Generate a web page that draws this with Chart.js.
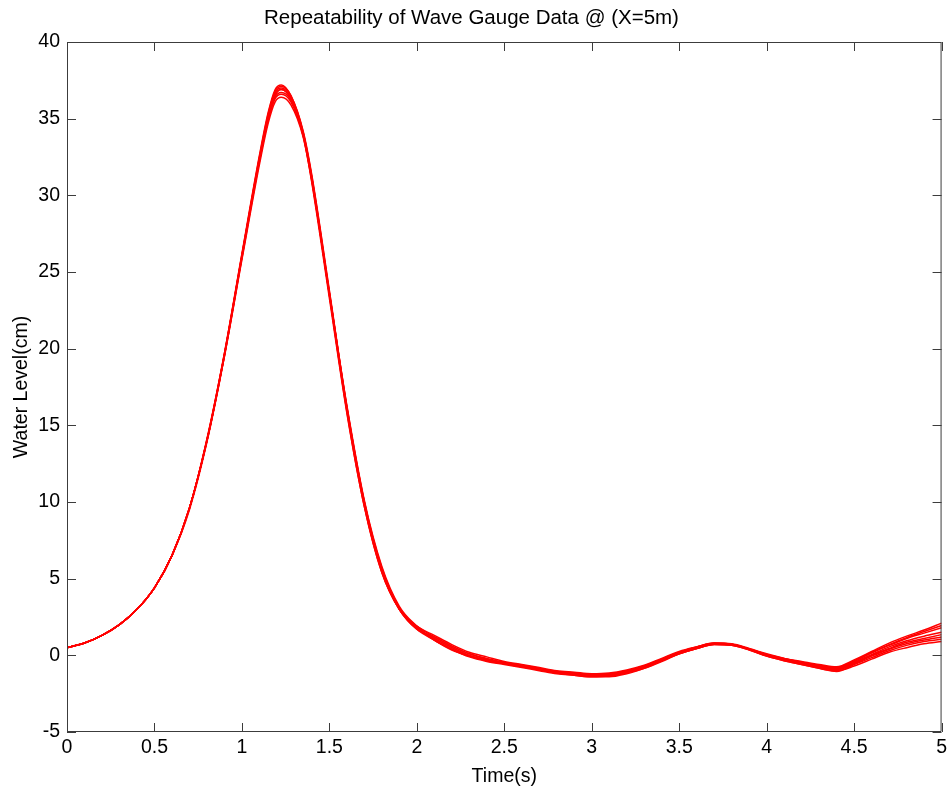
<!DOCTYPE html>
<html>
<head>
<meta charset="utf-8">
<script src="https://cdn.jsdelivr.net/npm/chart.js@4"></script>
<style>
  html, body { margin: 0; padding: 0; background: #fff; }
  #wrap { width: 951px; height: 788px; }
</style>
</head>
<body>
<div id="wrap"><canvas id="chart" width="951" height="788"></canvas></div>
<script>
const TITLE = "Repeatability of Wave Gauge Data @ (X=5m)";
const X_LABEL = "Time(s)";
const Y_LABEL = "Water Level(cm)";

// time samples (s), shared by every run
const TIME = [0, 0.1, 0.2, 0.3, 0.4, 0.5, 0.6, 0.7, 0.8, 0.9, 1.0, 1.1,
  1.15, 1.19, 1.225, 1.28, 1.35,
  1.4, 1.5, 1.6, 1.7, 1.8, 1.9, 2.0, 2.1, 2.2, 2.3,
  2.4, 2.5, 2.6, 2.7, 2.8, 2.9, 3.0, 3.1, 3.2, 3.3,
  3.4, 3.5, 3.6, 3.7, 3.8, 3.9, 4.0, 4.1, 4.2, 4.3,
  4.4, 4.5, 4.6, 4.7, 4.8, 4.9, 5.0];

// water level (cm) for each repeated run
const RUN_1 = [0.5, 0.8, 1.3, 2.0, 3.0, 4.4, 6.5, 9.6, 14.0, 19.6, 26.0, 32.3,
  35.0, 36.5, 36.9, 36.3, 34.0,
  31.0, 23.5, 16.0, 9.8, 5.5, 3.0, 1.8, 1.1, 0.5, 0.0,
  -0.3, -0.5, -0.7, -0.9, -1.1, -1.2, -1.3, -1.25, -1.05, -0.75,
  -0.3, 0.15, 0.5, 0.75, 0.7, 0.4, 0.0, -0.25, -0.5, -0.75,
  -0.9, -0.45, 0.05, 0.55, 0.95, 1.25, 1.5];
const RUN_2 = [0.5, 0.8, 1.3, 2.0, 3.0, 4.4, 6.5, 9.6, 14.1, 19.7, 26.2, 32.6,
  35.4, 36.9, 37.2, 36.5, 34.2,
  31.3, 23.8, 16.2, 10.0, 5.6, 3.1, 1.9, 1.3, 0.7, 0.2,
  -0.1, -0.4, -0.6, -0.8, -1.0, -1.1, -1.2, -1.15, -0.95, -0.65,
  -0.2, 0.25, 0.55, 0.8, 0.75, 0.45, 0.1, -0.2, -0.4, -0.6,
  -0.75, -0.3, 0.25, 0.8, 1.25, 1.65, 2.1];
const RUN_3 = [0.5, 0.8, 1.3, 2.0, 3.0, 4.4, 6.5, 9.5, 13.9, 19.5, 25.8, 32.0,
  34.7, 36.1, 36.4, 35.9, 33.8,
  30.9, 23.6, 16.3, 10.1, 5.8, 3.2, 1.9, 1.0, 0.4, -0.1,
  -0.4, -0.6, -0.8, -1.0, -1.2, -1.3, -1.4, -1.4, -1.2, -0.85,
  -0.4, 0.1, 0.45, 0.7, 0.65, 0.35, -0.05, -0.35, -0.6, -0.85,
  -1.0, -0.7, -0.25, 0.2, 0.5, 0.75, 0.9];
const RUN_4 = [0.5, 0.8, 1.3, 2.0, 3.0, 4.4, 6.5, 9.6, 14.0, 19.6, 26.1, 32.4,
  35.2, 36.7, 37.0, 36.4, 34.1,
  31.2, 23.7, 16.1, 9.9, 5.5, 3.0, 1.7, 1.2, 0.6, 0.1,
  -0.2, -0.45, -0.65, -0.85, -1.05, -1.15, -1.25, -1.2, -1.0, -0.7,
  -0.25, 0.2, 0.55, 0.8, 0.72, 0.42, 0.05, -0.22, -0.45, -0.7,
  -0.85, -0.4, 0.15, 0.65, 1.1, 1.45, 1.8];
const RUN_5 = [0.5, 0.8, 1.3, 2.0, 3.0, 4.4, 6.5, 9.6, 14.0, 19.5, 25.9, 32.2,
  34.9, 36.3, 36.6, 36.1, 33.9,
  31.0, 23.6, 16.2, 10.0, 5.7, 3.1, 1.8, 1.0, 0.35, -0.05,
  -0.35, -0.55, -0.75, -0.95, -1.15, -1.25, -1.35, -1.3, -1.1, -0.8,
  -0.35, 0.1, 0.45, 0.72, 0.68, 0.38, -0.02, -0.3, -0.55, -0.8,
  -0.95, -0.55, -0.05, 0.4, 0.75, 1.0, 1.2];
const RUN_6 = [0.5, 0.8, 1.3, 2.0, 3.0, 4.4, 6.5, 9.6, 14.1, 19.7, 26.1, 32.5,
  35.3, 36.8, 37.1, 36.5, 34.1,
  31.1, 23.5, 15.9, 9.7, 5.4, 3.0, 1.9, 1.2, 0.6, 0.1,
  -0.25, -0.5, -0.65, -0.85, -1.05, -1.15, -1.25, -1.2, -1.0, -0.7,
  -0.25, 0.2, 0.55, 0.78, 0.72, 0.42, 0.05, -0.2, -0.45, -0.65,
  -0.8, -0.35, 0.2, 0.7, 1.15, 1.55, 1.95];
const RUN_7 = [0.5, 0.8, 1.3, 2.0, 3.0, 4.4, 6.5, 9.6, 14.0, 19.6, 26.0, 32.3,
  35.0, 36.4, 36.7, 36.2, 33.9,
  30.8, 23.3, 15.8, 9.7, 5.4, 3.0, 1.7, 1.0, 0.4, -0.05,
  -0.35, -0.55, -0.75, -0.95, -1.15, -1.3, -1.4, -1.35, -1.15, -0.85,
  -0.35, 0.1, 0.45, 0.7, 0.66, 0.36, -0.05, -0.35, -0.6, -0.85,
  -1.05, -0.6, -0.15, 0.3, 0.65, 0.9, 1.05];
const RUN_8 = [0.5, 0.8, 1.3, 2.0, 3.0, 4.4, 6.5, 9.6, 14.0, 19.6, 26.0, 32.4,
  35.1, 36.6, 36.9, 36.3, 34.0,
  31.1, 23.6, 16.1, 9.9, 5.6, 3.1, 1.8, 1.1, 0.5, 0.0,
  -0.3, -0.5, -0.7, -0.9, -1.1, -1.2, -1.3, -1.25, -1.05, -0.75,
  -0.3, 0.15, 0.5, 0.76, 0.7, 0.4, 0.0, -0.28, -0.52, -0.78,
  -0.92, -0.5, 0.0, 0.45, 0.85, 1.1, 1.35];

const RUNS = [RUN_1, RUN_2, RUN_3, RUN_4, RUN_5, RUN_6, RUN_7, RUN_8];

const X_MIN = 0, X_MAX = 5, X_STEP = 0.5;
const Y_MIN = -5, Y_MAX = 40, Y_STEP = 5;

const FONT = "'Liberation Sans', Arial, sans-serif";
const AXIS_COLOR = "#3c3c3c";

// MATLAB-like box: ticks pointing inward on all four sides
const boxTicks = {
  id: "boxTicks",
  afterDraw(chart) {
    const { ctx, chartArea: a, scales } = chart;
    const len = 9;
    ctx.save();
    ctx.strokeStyle = AXIS_COLOR;
    ctx.lineWidth = 1;
    ctx.beginPath();
    ctx.rect(a.left + 0.5, a.top + 0.5, a.right - a.left - 1, a.bottom - a.top - 1);
    scales.x.ticks.forEach((t) => {
      const px = Math.round(scales.x.getPixelForValue(t.value)) + 0.5;
      ctx.moveTo(px, a.bottom);
      ctx.lineTo(px, a.bottom - len);
      ctx.moveTo(px, a.top);
      ctx.lineTo(px, a.top + len);
    });
    scales.y.ticks.forEach((t) => {
      const py = Math.round(scales.y.getPixelForValue(t.value)) + 0.5;
      ctx.moveTo(a.left, py);
      ctx.lineTo(a.left + len, py);
      ctx.moveTo(a.right, py);
      ctx.lineTo(a.right - len, py);
    });
    ctx.stroke();
    ctx.restore();
  },
};

const whiteBg = {
  id: "whiteBg",
  beforeDraw(chart) {
    const { ctx } = chart;
    ctx.save();
    ctx.fillStyle = "#fff";
    ctx.fillRect(0, 0, chart.width, chart.height);
    ctx.restore();
  },
};

new Chart(document.getElementById("chart"), {
  type: "line",
  data: {
    datasets: RUNS.map((run, i) => ({
      label: `Run ${i + 1}`,
      data: run.map((v, j) => ({ x: TIME[j], y: v })),
      borderColor: "#ff0000",
      borderWidth: 1.5,
      pointRadius: 0,
      fill: false,
      cubicInterpolationMode: "monotone",
    })),
  },
  options: {
    responsive: false,
    animation: false,
    devicePixelRatio: 1,
    layout: { padding: { left: 0, right: 8, top: 0, bottom: 0 } },
    plugins: {
      legend: { display: false },
      tooltip: { enabled: false },
      title: {
        display: true,
        text: TITLE,
        color: "#000",
        font: { family: FONT, size: 20.5, weight: "normal" },
        padding: { top: 6, bottom: 11.4 },
      },
    },
    scales: {
      x: {
        type: "linear",
        min: X_MIN,
        max: X_MAX,
        grid: { display: false, drawTicks: false },
        border: { display: false },
        ticks: {
          stepSize: X_STEP,
          color: "#000",
          padding: 4,
          maxRotation: 0,
          font: { family: FONT, size: 19.5 },
          callback: (v) => String(Number(v)),
        },
        title: {
          display: true,
          text: X_LABEL,
          color: "#000",
          font: { family: FONT, size: 19.5 },
          padding: { top: 0, bottom: 0 },
        },
        afterFit: (scale) => { scale.height = 56; },
      },
      y: {
        min: Y_MIN,
        max: Y_MAX,
        grid: { display: false, drawTicks: false },
        border: { display: false },
        ticks: {
          stepSize: Y_STEP,
          color: "#000",
          padding: 7,
          font: { family: FONT, size: 19.5 },
        },
        title: {
          display: true,
          text: Y_LABEL,
          color: "#000",
          font: { family: FONT, size: 19.5 },
          padding: { top: 10, bottom: 0 },
        },
        afterFit: (scale) => { scale.width = 67; },
      },
    },
  },
  plugins: [whiteBg, boxTicks],
});
</script>
</body>
</html>
